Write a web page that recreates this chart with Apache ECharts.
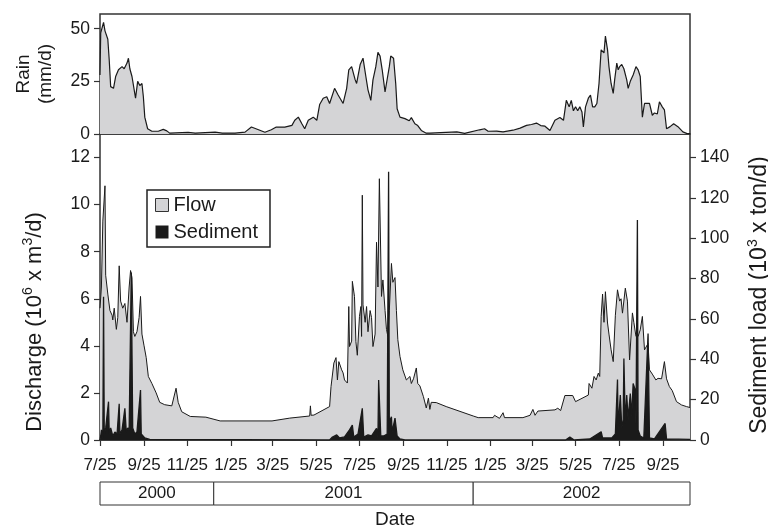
<!DOCTYPE html>
<html>
<head>
<meta charset="utf-8">
<script src="https://cdn.jsdelivr.net/npm/echarts@6/dist/echarts.min.js"></script>
<style>
  html, body { margin: 0; padding: 0; background: #fff; }
  #chart { width: 768px; height: 528px; }
</style>
</head>
<body>
<div id="chart"></div>
<script>
// day numbers below count from 2000-07-25
const startDate = '2000-07-25'
const endDate = '2002-11-02'

const tickDates = ['2000-07-25', '2000-09-25', '2000-11-25', '2001-01-25', '2001-03-25', '2001-05-25',
  '2001-07-25', '2001-09-25', '2001-11-25', '2002-01-25', '2002-03-25', '2002-05-25', '2002-07-25', '2002-09-25']

const years = ['2000', '2001', '2002']
const yearStarts = ['2000-07-25', '2001-01-01', '2002-01-01']

const flowTicks = [0, 2, 4, 6, 8, 10, 12]
const sedTicks = [0, 20, 40, 60, 80, 100, 120, 140]
const rainTicks = [0, 25, 50]

// rain, mm/d  [day, value]
const rain = [
  [0, 28], [1, 48], [5, 53], [7, 49], [11, 45], [13, 35], [15, 22.5], [19, 21.7], [22, 27.3], [26, 30.5],
  [31, 32], [34, 31], [38, 33.7], [40, 36], [42, 31], [45, 27.3], [47, 28], [50, 17], [53, 25], [56, 23],
  [59, 24], [61, 17.7], [63, 8], [67, 2.5], [73, 1.3], [82, 1.3], [89, 2.2], [94, 1.5], [98, 0.4], [124, 0.8],
  [134, 0.4], [162, 0.9], [172, 0.4], [190, 0.4], [204, 0.9], [213, 3.3], [223, 2], [232, 0.8], [241, 2], [248, 3.3],
  [260, 3.3], [270, 4.1], [274, 6.5], [279, 8], [284, 4.9], [288, 2.5], [293, 6.5], [300, 8], [305, 6.5], [309, 14],
  [314, 17], [319, 17.7], [323, 14.5], [330, 21.7], [335, 18.5], [342, 14.5], [347, 21.7], [350, 30.5], [354, 32], [359, 25.7],
  [361, 24], [366, 33], [370, 36], [374, 27.3], [377, 21], [381, 16], [384, 25.7], [388, 32], [391, 38.8], [394, 37],
  [397, 30.5], [401, 20], [404, 26], [407, 32], [409, 37], [413, 36], [416, 24], [418, 12], [422, 8], [429, 7.3],
  [435, 6.3], [438, 7.8], [443, 4.9], [447, 4], [452, 1.7], [459, 0.4], [464, 0.4], [502, 1], [513, 0.3], [534, 2],
  [541, 2.5], [546, 1.3], [558, 1.4], [567, 1], [581, 1.8], [591, 2.8], [600, 4.1], [607, 4.5], [614, 5.2], [620, 4],
  [626, 3.7], [633, 1.7], [640, 6.5], [647, 7.8], [652, 6.5], [656, 16], [660, 12.9], [663, 16], [666, 11], [669, 12.9],
  [672, 11], [675, 12.9], [678, 10.5], [680, 3.3], [683, 12.9], [687, 17], [690, 18.5], [693, 12.9], [696, 12.9], [699, 14.5],
  [702, 24], [705, 40], [709, 38.5], [711, 46.5], [714, 40], [716, 32], [719, 24], [722, 19.3], [724, 25.7], [727, 33.7],
  [729, 30.5], [731, 32], [734, 33], [737, 31], [741, 25.7], [743, 21.7], [746, 25], [750, 28], [754, 32], [757, 30.5],
  [760, 27.3], [763, 8], [766, 14.5], [770, 14.5], [773, 14.5], [777, 8.9], [780, 10], [784, 9.5], [787, 15.3], [791, 12.9],
  [794, 11.5], [797, 2.5], [802, 3.5], [807, 4.9], [813, 3.5], [820, 1], [826, 0.2], [830, 0.2]
]

// discharge, 10^6 m3/d  [day, value]
const flow = [
  [0, 5.6], [2, 6.5], [4, 9.3], [7, 10.8], [8, 7.0], [11, 6.2], [14, 5.5], [17, 5.3], [18, 5.1], [20, 5.6],
  [23, 4.7], [25, 5.2], [27, 7.4], [29, 5.9], [32, 5.6], [35, 5.8], [38, 5.0], [41, 6.5], [43, 7.2], [45, 6.9],
  [47, 4.6], [49, 4.4], [52, 4.6], [55, 5.2], [57, 6.1], [59, 4.5], [62, 4.0], [65, 3.5], [68, 2.7], [73, 2.4],
  [79, 2.0], [84, 1.6], [91, 1.5], [101, 1.45], [107, 2.2], [110, 1.6], [115, 1.2], [127, 1.0], [149, 0.97], [169, 0.81],
  [242, 0.81], [267, 0.93], [295, 1.02], [296, 1.45], [297, 1.05], [301, 1.06], [323, 1.42], [325, 2.27], [329, 3.27], [332, 3.5],
  [334, 2.55], [336, 3.33], [340, 2.98], [342, 2.85], [344, 2.55], [348, 2.42], [350, 5.67], [351, 3.97], [354, 4.2], [355, 6.74],
  [358, 6.1], [360, 4.18], [362, 3.6], [365, 5.25], [367, 5.67], [368, 4.4], [369, 10.4], [370, 5.74], [373, 5.0], [375, 5.67],
  [377, 4.6], [380, 5.5], [382, 5.2], [384, 3.97], [387, 4.5], [389, 8.4], [391, 6.5], [393, 11.1], [396, 6.1], [398, 6.8],
  [401, 5.5], [403, 4.7], [405, 4.4], [407, 5.5], [410, 7.5], [412, 6.7], [415, 6.9], [417, 5.5], [419, 4.26], [422, 3.55],
  [426, 2.98], [431, 2.55], [436, 2.7], [438, 2.4], [441, 2.6], [445, 3.06], [447, 2.4], [450, 2.3], [455, 1.84], [459, 1.36],
  [462, 1.78], [464, 1.3], [466, 1.6], [473, 1.59], [487, 1.42], [525, 1.02], [532, 0.95], [553, 0.95], [555, 1.05], [562, 0.92],
  [567, 1.16], [569, 0.95], [595, 0.95], [605, 1.05], [609, 1.3], [612, 1.05], [616, 1.23], [640, 1.28], [644, 1.35], [648, 1.25],
  [654, 1.89], [665, 1.89], [669, 1.63], [687, 1.91], [688, 2.4], [692, 2.2], [695, 2.7], [698, 2.55], [701, 2.84], [703, 2.7],
  [705, 5.25], [707, 6.2], [709, 5.0], [711, 6.3], [714, 4.97], [716, 4.5], [719, 3.83], [722, 3.33], [725, 5.3], [728, 6.38],
  [731, 5.9], [733, 6.0], [735, 5.39], [739, 6.45], [742, 5.9], [745, 3.4], [749, 5.4], [751, 5.0], [754, 4.4], [757, 4.4],
  [760, 4.68], [763, 5.25], [766, 3.83], [771, 4.1], [773, 2.98], [777, 2.8], [782, 2.55], [785, 2.62], [790, 2.6], [794, 3.33],
  [797, 2.6], [801, 2.27], [805, 2.1], [811, 1.63], [818, 1.49], [825, 1.42], [830, 1.38]
]

// sediment load, 10^3 ton/d  [day, value]
const sediment = [
  [0, 0], [1, 2], [2, 5], [4, 1], [5, 71], [6, 3], [8, 6], [12, 19], [13, 3], [15, 6],
  [18, 2], [21, 4], [24, 3], [27, 18], [28, 3], [31, 5], [35, 15.7], [37, 4], [39, 6], [41, 5],
  [44, 83], [46, 6], [49, 3], [52, 4], [57, 24.8], [58, 3], [63, 1], [70, 0.3], [323, 0], [327, 1.5],
  [333, 2.5], [337, 1], [344, 1.5], [351, 5], [355, 7.4], [357, 1.5], [363, 3], [369, 15.7], [371, 1.5], [377, 2.5],
  [382, 2], [389, 5.8], [391, 1.5], [392, 29.7], [395, 2], [399, 2], [404, 3], [405, 3], [406, 133], [407, 9],
  [410, 11.5], [411, 4], [415, 10.9], [418, 2], [422, 0.5], [429, 0], [655, 0], [661, 1.5], [667, 0], [689, 0.5],
  [705, 4.1], [707, 1], [720, 1], [725, 3], [728, 30], [729, 5], [730, 12], [732, 22.3], [734, 6], [736, 10],
  [737, 40.4], [739, 8], [741, 22.3], [743, 10], [744, 15], [746, 23], [748, 12], [750, 28], [753, 24.8], [754, 8],
  [756, 109], [757, 5], [760, 2], [765, 1], [771, 52.8], [773, 1], [780, 0.5], [795, 8.2], [797, 0.5], [830, 0.3]
]

const t0 = Date.UTC(2000, 6, 25)
function dayOf(s) {
  const p = s.split('-').map(Number)
  return Math.round((Date.UTC(p[0], p[1] - 1, p[2]) - t0) / 86400000)
}
const xMax = dayOf(endDate)
const tickDays = tickDates.map(dayOf)
const tickText = {}
tickDates.forEach(function (s, i) {
  const p = s.split('-').map(Number)
  tickText[tickDays[i]] = p[1] + '/' + p[2]
})
const yearSpans = years.map(function (y, i) {
  return [dayOf(yearStarts[i]), i < years.length - 1 ? dayOf(yearStarts[i + 1]) : xMax, y]
})

const GRAY = '#d4d4d6'
const INK = '#1a1a1a'
const FONT = "'Liberation Sans', Arial, sans-serif"

const chart = echarts.init(document.getElementById('chart'))

const hiddenX = function (grid) {
  return {
    type: 'value', gridIndex: grid, min: 0, max: xMax,
    axisLine: { show: false }, axisTick: { show: false }, axisLabel: { show: false }, splitLine: { show: false },
  }
}

// rich text for names with superscripts
const richFor = function (size) {
  return {
    t: { fontSize: size, lineHeight: size + 5, color: INK, fontFamily: FONT },
    s: { fontSize: Math.round(size * 0.62), lineHeight: size + 5, verticalAlign: 'top', color: INK, fontFamily: FONT },
  }
}

const option = {
  animation: false,
  textStyle: { fontFamily: FONT, color: INK },
  grid: [
    { left: 100, right: 78, top: 14, height: 120, show: true, borderColor: '#333', borderWidth: 1.5, outerBoundsMode: 'none' },
    { left: 100, right: 78, top: 134, height: 306, show: true, borderColor: '#333', borderWidth: 1.5, outerBoundsMode: 'none' },
    { left: 100, right: 78, top: 482, height: 23, outerBoundsMode: 'none' },
  ],
  legend: {
    orient: 'vertical',
    left: 147,
    top: 190,
    padding: [5, 12, 5, 8],
    itemGap: 7,
    itemWidth: 13,
    itemHeight: 13,
    icon: 'rect',
    borderColor: '#222',
    borderWidth: 1.5,
    backgroundColor: '#fff',
    textStyle: { fontSize: 20, color: INK, fontFamily: FONT },
    data: [
      { name: 'Flow', itemStyle: { color: GRAY, borderColor: '#333', borderWidth: 1 } },
      { name: 'Sediment', itemStyle: { color: INK, borderWidth: 0 } },
    ],
  },
  xAxis: [
    hiddenX(0),
    {
      type: 'value', gridIndex: 1, min: 0, max: xMax,
      axisLine: { show: true, lineStyle: { color: '#333', width: 1.5 } },
      axisTick: { show: true, customValues: tickDays, length: 6, lineStyle: { color: '#333', width: 1.2 } },
      axisLabel: {
        customValues: tickDays, margin: 17, fontSize: 17, color: INK,
        formatter: function (v) { return tickText[v] },
      },
      splitLine: { show: false },
    },
    Object.assign(hiddenX(2), {
      name: 'Date', nameLocation: 'middle', nameGap: 5,
      nameTextStyle: { fontSize: 19, color: INK, verticalAlign: 'top' },
    }),
  ],
  yAxis: [
    {
      type: 'value', gridIndex: 0, min: 0, max: 57,
      name: 'Rain\n(mm/d)', nameLocation: 'middle', nameGap: 43,
      nameTextStyle: { fontSize: 19, lineHeight: 22, color: INK },
      axisLine: { show: false },
      axisTick: { show: true, customValues: rainTicks, length: 6, lineStyle: { color: '#333', width: 1.2 } },
      axisLabel: { customValues: rainTicks, fontSize: 17.5, color: INK, margin: 10 },
      splitLine: { show: false },
    },
    {
      type: 'value', gridIndex: 1, min: 0, max: 13,
      name: '{t|Discharge (10}{s|6}{t| x m}{s|3}{t|/d)}', nameLocation: 'middle', nameGap: 52,
      nameTextStyle: { rich: richFor(22), padding: [0, 70, 0, 0] },
      axisLine: { show: false },
      axisTick: { show: true, customValues: flowTicks, length: 6, lineStyle: { color: '#333', width: 1.2 } },
      axisLabel: { customValues: flowTicks, fontSize: 17.5, color: INK, margin: 10 },
      splitLine: { show: false },
    },
    {
      type: 'value', gridIndex: 1, position: 'right', min: 0, max: 140 * 13 / 12,
      name: '{t|Sediment load (10}{s|3}{t| x ton/d)}', nameLocation: 'middle', nameGap: 56,
      nameRotate: 90,
      nameTextStyle: { rich: richFor(23), padding: [0, 16, 0, 0] },
      axisLine: { show: false },
      axisTick: { show: true, customValues: sedTicks, length: 6, lineStyle: { color: '#333', width: 1.2 } },
      axisLabel: { customValues: sedTicks, fontSize: 17.5, color: INK, margin: 10 },
      splitLine: { show: false },
    },
    {
      type: 'value', gridIndex: 2, min: 0, max: 1, show: false,
    },
  ],
  series: [
    {
      name: 'Rain', type: 'line', xAxisIndex: 0, yAxisIndex: 0, data: rain,
      symbol: 'none', lineStyle: { color: INK, width: 1.2 }, areaStyle: { color: GRAY, opacity: 1 },
    },
    {
      name: 'Flow', type: 'line', xAxisIndex: 1, yAxisIndex: 1, data: flow,
      symbol: 'none', lineStyle: { color: INK, width: 1 }, areaStyle: { color: GRAY, opacity: 1 },
      itemStyle: { color: GRAY },
    },
    {
      name: 'Sediment', type: 'line', xAxisIndex: 1, yAxisIndex: 2, data: sediment,
      symbol: 'none', lineStyle: { color: INK, width: 1.3 }, areaStyle: { color: INK, opacity: 1 },
      itemStyle: { color: INK }, z: 3,
    },
    {
      name: 'Years', type: 'custom', xAxisIndex: 2, yAxisIndex: 3, data: yearSpans,
      renderItem: function (params, api) {
        const a = api.coord([api.value(0), 1])
        const b = api.coord([api.value(1), 0])
        return {
          type: 'group',
          children: [
            {
              type: 'rect',
              shape: { x: a[0], y: a[1], width: b[0] - a[0], height: b[1] - a[1] },
              style: { fill: '#fff', stroke: '#333', lineWidth: 1 },
            },
            {
              type: 'text',
              style: {
                x: (a[0] + b[0]) / 2, y: (a[1] + b[1]) / 2,
                text: yearSpans[params.dataIndex][2],
                align: 'center', verticalAlign: 'middle',
                fontSize: 17, fontFamily: FONT, fill: INK,
              },
            },
          ],
        }
      },
    },
  ],
}

chart.setOption(option)
</script>
</body>
</html>
